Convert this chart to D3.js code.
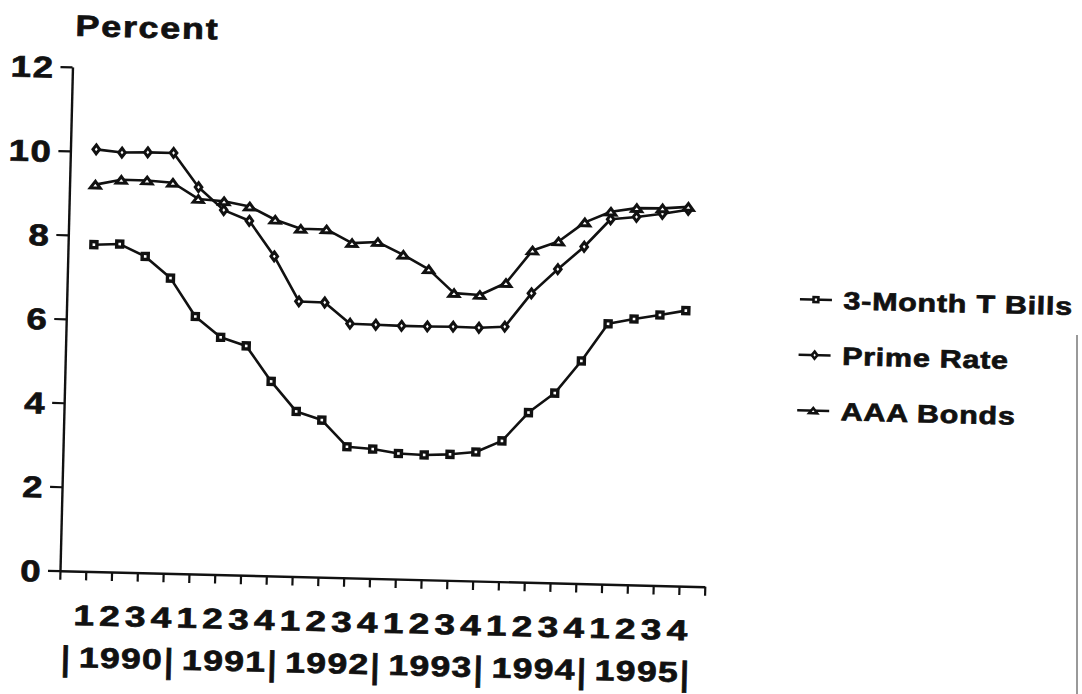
<!DOCTYPE html>
<html><head><meta charset="utf-8">
<script src="https://cdn.jsdelivr.net/npm/d3@7"></script>
<style>
html,body{margin:0;padding:0;background:#fff;}
svg{display:block;}
text{font-family:"Liberation Sans",Arial,Helvetica,sans-serif;font-weight:bold;fill:#111;stroke:#111;stroke-width:0.7px;}
</style></head><body>
<svg id="chart" width="1082" height="694"></svg>
<script>
// ---- data ----
const quarterLabels = ["1","2","3","4","1","2","3","4","1","2","3","4","1","2","3","4","1","2","3","4","1","2","3","4"];
const yearLabels = ["1990","1991","1992","1993","1994","1995"];
const yTicks = [0,2,4,6,8,10,12];
const seriesNames = ["3-Month T Bills","Prime Rate","AAA Bonds"];
const tBills   = [7.78,7.81,7.53,7.03,6.13,5.65,5.46,4.63,3.93,3.74,3.12,3.08,2.99,2.97,3.00,3.07,3.35,4.04,4.52,5.30,6.20,6.33,6.44,6.56];
const primeRate= [10.05,9.99,10.01,10.01,9.21,8.68,8.44,7.61,6.55,6.54,6.05,6.04,6.03,6.03,6.04,6.03,6.07,6.88,7.47,8.02,8.69,8.76,8.85,8.96];
const aaaBonds = [9.21,9.34,9.34,9.30,8.93,8.89,8.78,8.48,8.28,8.28,7.97,8.01,7.72,7.39,6.84,6.81,7.11,7.90,8.13,8.60,8.87,8.97,8.98,9.03];

// ---- layout ----
const W = 1082, H = 694;
const ox = 60, oy = 570.7;
const SX = 1.22;          // horizontal stretch of the lettering
const INK = "#111";

const svg = d3.select("#chart");
svg.append("rect").attr("width", W).attr("height", H).attr("fill", "#fff");

// the scanned page is slightly tilted
const g = svg.append("g").attr("transform", `rotate(1.42 ${ox} ${oy})`);

const x = d3.scaleLinear().domain([0, 25]).range([ox, ox + 645]);
const y = d3.scaleLinear().domain([0, 12]).range([oy, oy - 504]);

// ---- y axis ----
const ya = g.append("g").attr("transform", `translate(${ox},0)`)
  .call(d3.axisLeft(y).tickValues(yTicks).tickSize(12).tickSizeOuter(0).tickFormat(d3.format("d")));
ya.attr("font-family", null).attr("font-size", null);
ya.select(".domain").attr("stroke", INK).attr("stroke-width", 2.4);
ya.selectAll(".tick line").attr("stroke", INK).attr("stroke-width", 2.2);
ya.selectAll(".tick text")
  .attr("x", 0).attr("dy", null).attr("y", 0)
  .attr("font-size", 30).attr("text-anchor", "end").attr("letter-spacing", 1.2)
  .attr("transform", `translate(-18,10.8) scale(${SX},1)`);

// ---- x axis ----
const xa = g.append("g").attr("transform", `translate(0,${oy})`)
  .call(d3.axisBottom(x).tickValues(d3.range(0, 26)).tickSize(9).tickSizeOuter(0).tickFormat(""));
xa.select(".domain").attr("stroke", INK).attr("stroke-width", 2.4);
xa.selectAll(".tick line").attr("stroke", INK).attr("stroke-width", 2.2);

// quarter labels
g.append("g").selectAll("text").data(quarterLabels).join("text")
  .attr("text-anchor", "middle").attr("font-size", 28.5)
  .attr("transform", (d, i) => `translate(${x(i + 1) - 1},${oy + 54}) scale(1.3,1)`)
  .text(d => d);

// year labels and separators
const yearG = g.append("g");
yearG.selectAll("text.sep").data(d3.range(yearLabels.length + 1)).join("text")
  .attr("class", "sep").attr("text-anchor", "middle").attr("font-size", 30)
  .attr("transform", k => `translate(${x(4 * k + 0.3)},${oy + 99}) scale(1,1.12)`)
  .text("|");
yearG.selectAll("text.yr").data(yearLabels).join("text")
  .attr("class", "yr").attr("text-anchor", "middle").attr("font-size", 28.5).attr("letter-spacing", 1)
  .attr("transform", (d, k) => `translate(${x(4 * k + 2.45)},${oy + 96}) scale(1.25,1)`)
  .text(d => d);

// title
g.append("text").attr("font-size", 29.5).attr("letter-spacing", 1.4)
  .attr("transform", `translate(62,35.6) scale(${SX},1)`)
  .text("Percent");

// ---- marker shapes ----
const square = s => `M${-s},${-s}H${s}V${s}H${-s}Z`;
const diamond = (w, h) => `M0,${-h}L${w},0L0,${h}L${-w},0Z`;
const triangle = (w, h) => `M0,${-h / 2}L${w},${h / 2}L${-w},${h / 2}Z`;

const series = [
  { name: seriesNames[0], values: tBills,    shape: square(3),          lshape: square(2.4),        sw: 3.4 },
  { name: seriesNames[1], values: primeRate, shape: diamond(3.3, 4.4),  lshape: diamond(2.8, 3.6),  sw: 3 },
  { name: seriesNames[2], values: aaaBonds,  shape: triangle(5, 6.6),   lshape: triangle(4, 5.2),   sw: 3 }
];

const line = d3.line().x((d, i) => x(i + 1)).y(d => y(d));

series.forEach(s => {
  g.append("path").datum(s.values)
    .attr("d", line).attr("fill", "none").attr("stroke", INK)
    .attr("stroke-width", 2.6).attr("stroke-linejoin", "round");
});
series.forEach(s => {
  g.append("g").selectAll("path").data(s.values).join("path")
    .attr("d", s.shape)
    .attr("transform", (d, i) => `translate(${x(i + 1)},${y(d)})`)
    .attr("fill", "#fff").attr("stroke", INK).attr("stroke-width", s.sw)
    .attr("stroke-linejoin", "miter");
});

// ---- legend ----
const lg = g.append("g");
const legendY = [290, 345.5, 401];
series.forEach((s, k) => {
  const by = legendY[k];
  lg.append("line").attr("x1", 793).attr("x2", 825).attr("y1", by - 9).attr("y2", by - 9)
    .attr("stroke", INK).attr("stroke-width", 2.6);
  lg.append("path").attr("d", s.lshape).attr("transform", `translate(809,${by - 9})`)
    .attr("fill", "#fff").attr("stroke", INK).attr("stroke-width", 2.6);
  lg.append("text").attr("font-size", 25).attr("letter-spacing", 0.6)
    .attr("transform", `translate(836.6,${by}) scale(${SX},1)`)
    .text(s.name);
});

// scan edge at the right margin
svg.append("line").attr("x1", 1077).attr("x2", 1077).attr("y1", 335).attr("y2", H)
  .attr("stroke", "#777").attr("stroke-width", 1.5);
</script>
</body></html>
